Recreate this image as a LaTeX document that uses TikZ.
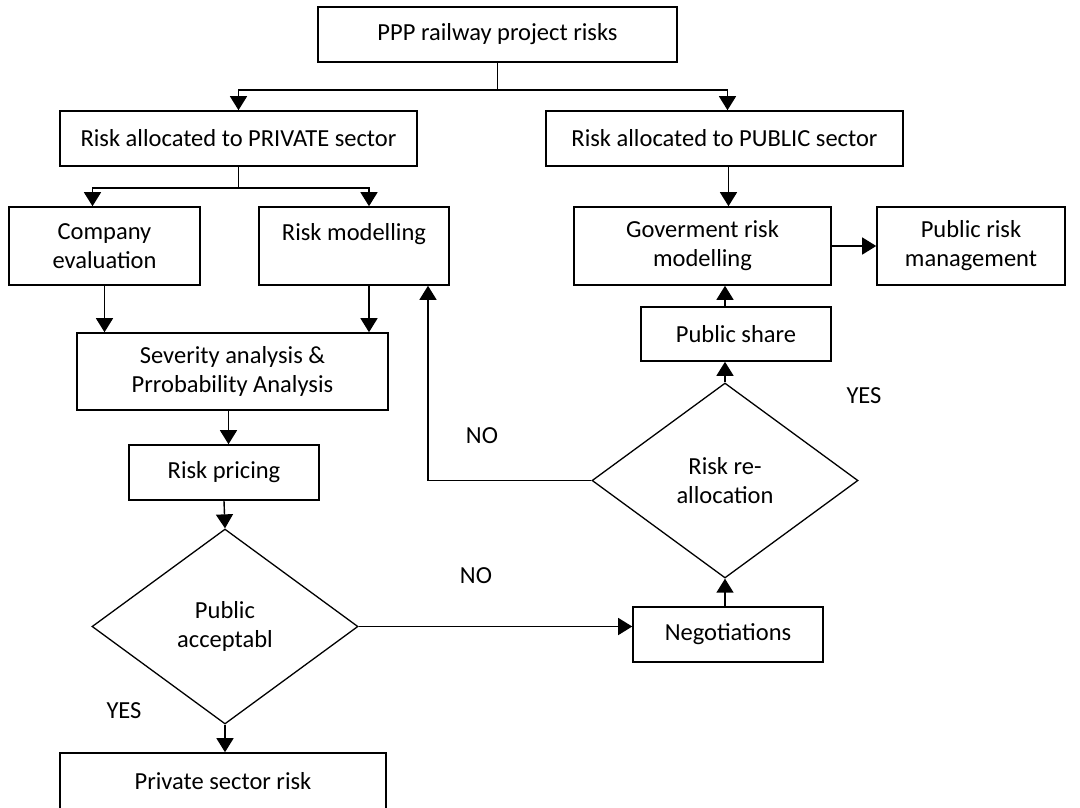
\documentclass[tikz,border=0pt]{standalone}
\usepackage{fontspec}
\setmainfont{Carlito}
\usetikzlibrary{arrows.meta,shapes.geometric,calc}
\begin{document}
\begin{tikzpicture}[x=1pt,y=-1pt,
  every node/.style={font=\fontsize{24.5}{29}\selectfont, align=center, inner sep=0pt},
  box/.style={draw, line width=1.6pt, rectangle},
  decision/.style={draw, line width=1.3pt, diamond, inner sep=0pt},
  conn/.style={line width=1.4pt},
  arr/.style={conn, -{Triangle[length=14pt,width=17pt]}},
  lbl/.style={}]
\clip (0,0) rectangle (1080,807);
\fill[white] (0,0) rectangle (1080,807);

% process boxes
\node[box, minimum width=359, minimum height=55] (top) at (497.5,34.5) {PPP railway project risks};
\node[box, minimum width=357, minimum height=55] (priv) at (238.5,138.5) {Risk allocated to PRIVATE sector};
\node[box, minimum width=357, minimum height=55] (pub) at (724.5,138.5) {Risk allocated to PUBLIC sector};
\node[box, minimum width=191, minimum height=78] (comp) at (104.5,246) {Company\\evaluation};
\node[box, minimum width=190, minimum height=78] (rmod) at (354,246) {Risk modelling\\\mbox{}};
\node[box, minimum width=257, minimum height=78] (gov) at (702.5,246) {Goverment risk\\modelling};
\node[box, minimum width=188, minimum height=78] (prm) at (971,246) {Public risk\\management};
\node[box, minimum width=311, minimum height=77] (sev) at (232.5,371.5) {Severity analysis \&\\Prrobability Analysis};
\node[box, minimum width=190, minimum height=54] (pshare) at (736,334) {Public share};
\node[box, minimum width=190, minimum height=55] (price) at (224,472.5) {Risk pricing};
\node[box, minimum width=190, minimum height=55] (nego) at (728,634.5) {Negotiations};
\node[box, minimum width=326, minimum height=56] (psr) at (223,781) {Private sector risk};

% decisions
\node[decision, minimum width=266, minimum height=195] (acc) at (225,626.5) {Public\\acceptabl};
\node[decision, minimum width=266, minimum height=195] (realloc) at (725,480.5) {Risk re-\\allocation};

% branch labels
\node[lbl] (no1) at (482,436) {NO};
\node[lbl] (no2) at (476,576) {NO};
\node[lbl] (yes1) at (864,396) {YES};
\node[lbl] (yes2) at (124,711) {YES};

% connectors
\draw[conn] (top.south) -- ++(0,27) coordinate (j1);
\draw[arr] (j1) -| (priv.north);
\draw[arr] (j1) -| ([xshift=3pt]pub.north);

\draw[conn] (priv.south) -- ++(0,21) coordinate (j2);
\draw[arr] (j2) -| ([xshift=-12pt]comp.north);
\draw[arr] (j2) -| ([xshift=15pt]rmod.north);

\draw[arr] (comp.south) -- (comp.south |- sev.north);
\draw[arr] ([xshift=15pt]rmod.south) -- ([xshift=15pt]rmod.south |- sev.north);
\draw[arr] ([xshift=-4pt]sev.south) -- ([xshift=-4pt]sev.south |- price.north);
\draw[arr] (price.south) -- (acc.north);
\draw[arr] (acc.east) -- (acc.east -| nego.west);
\draw[arr] (acc.south) -- (acc.south |- psr.north);

\draw[arr] (realloc.south |- nego.north) -- (realloc.south);
\draw[arr] (realloc.north) -- (realloc.north |- pshare.south);
\draw[arr] (realloc.north |- pshare.north) -- (realloc.north |- gov.south);
\draw[arr] ([xshift=4pt]pub.south) -- ([xshift=4pt]pub.south |- gov.north);
\draw[arr] (gov.east) -- (prm.west);
\draw[arr] (realloc.west) -| ([xshift=74pt]rmod.south);
\end{tikzpicture}
\end{document}
